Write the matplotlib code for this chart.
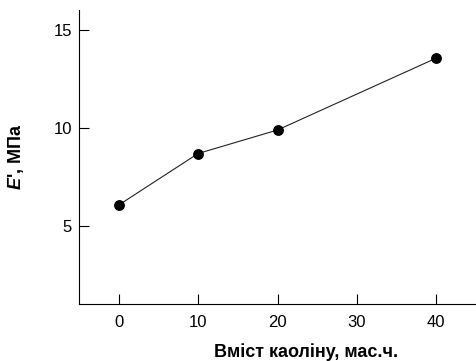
import matplotlib
matplotlib.use("Agg")
import matplotlib.pyplot as plt

plt.rcParams["font.family"] = ["Liberation Sans", "DejaVu Sans"]
plt.rcParams["mathtext.fontset"] = "custom"
plt.rcParams["mathtext.bfit"] = "Liberation Sans:bold:italic"
plt.rcParams["mathtext.bf"] = "Liberation Sans:bold"

# kaolin content (mass parts) vs modulus E' (MPa)
kaolin = [0, 10, 20, 40]
modulus = [6.05, 8.68, 9.88, 13.55]

x_ticks = [0, 10, 20, 30, 40]
y_ticks = [5, 10, 15]

fig = plt.figure(figsize=(4.76, 3.61), dpi=100)
ax = fig.add_axes([0.166, 0.158, 0.834, 0.814])
ax.plot(kaolin, modulus, "-", color="#222222", linewidth=0.8)
ax.plot(kaolin, modulus, "o", color="black", markersize=6.8)

ax.set_xlim(-5, 45)
ax.set_ylim(1, 16)
ax.set_xticks(x_ticks)
ax.set_yticks(y_ticks)
ax.tick_params(direction="in", length=7, width=0.8, labelsize=12)
ax.tick_params(axis="x", pad=8)
ax.tick_params(axis="y", pad=5)
ax.spines["top"].set_visible(False)
ax.spines["right"].set_visible(False)
for s in ["left", "bottom"]:
    ax.spines[s].set_linewidth(0.8)

ax.set_xlabel("Вміст каоліну, мас.ч.", fontsize=13, fontweight="bold", labelpad=10)
ax.xaxis.set_label_coords(0.572, -0.135)
ax.set_ylabel(r"$\mathbfit{E}$', МПа", fontsize=13, fontweight="bold", labelpad=20)

fig.savefig("out.png", dpi=100)
